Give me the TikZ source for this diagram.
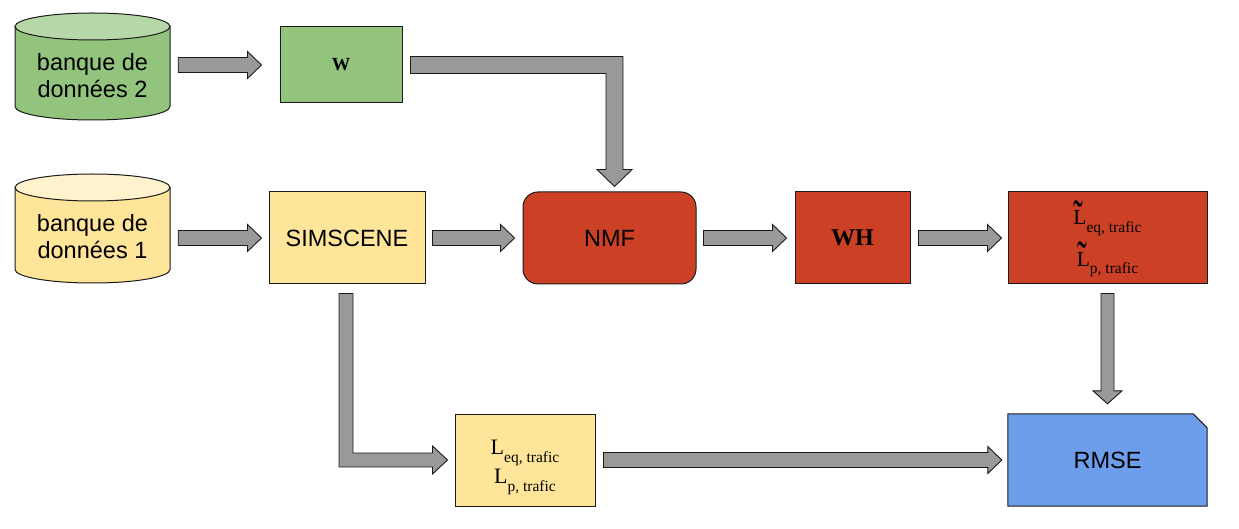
\documentclass[tikz,border=0pt]{standalone}
\usepackage{fontspec}
\usepackage{graphicx}
\setmainfont{Liberation Serif}
\setsansfont{Liberation Sans}
\usetikzlibrary{calc,backgrounds}
\definecolor{gbody}{HTML}{93C47D}
\definecolor{gtop}{HTML}{B6D7A8}
\definecolor{ybody}{HTML}{FFE599}
\definecolor{ytop}{HTML}{FFF2CC}
\definecolor{redc}{HTML}{CC4125}
\definecolor{bluec}{HTML}{6D9EEB}
\definecolor{arrc}{HTML}{999999}
\definecolor{linec}{HTML}{1A1A1A}

\newcommand\dbcyl[6]{%
 \pgfmathsetmacro\cyM{(#1+#3)/2}%
 \pgfmathsetmacro\cyR{(#3-#1)/2}%
 \pgfmathsetmacro\cyKa{\cyM-0.5523*\cyR}%
 \pgfmathsetmacro\cyKb{\cyM+0.5523*\cyR}%
 \pgfmathsetmacro\cyT{#2+13.5}%
 \pgfmathsetmacro\cyTb{#2+27}%
 \pgfmathsetmacro\cyB{#4-13.5}%
 \pgfmathsetmacro\cyK{0.5523*13.5}%
 \draw[cylline, fill=#5] (#1,\cyT) -- (#1,\cyB) .. controls (#1,\cyB+\cyK) and (\cyKa,#4) .. (\cyM,#4) .. controls (\cyKb,#4) and (#3,\cyB+\cyK) .. (#3,\cyB) -- (#3,\cyT) -- cycle;
 \draw[cylline, fill=#6] (#1,\cyT) .. controls (#1,\cyT-\cyK) and (\cyKa,#2) .. (\cyM,#2) .. controls (\cyKb,#2) and (#3,\cyT-\cyK) .. (#3,\cyT) .. controls (#3,\cyT+\cyK) and (\cyKb,\cyTb) .. (\cyM,\cyTb) .. controls (\cyKa,\cyTb) and (#1,\cyT+\cyK) .. (#1,\cyT) -- cycle;
}
\newcommand\zl[1]{\raisebox{0pt}[0pt][0pt]{#1}}
\newcommand\Ls[1]{L\raisebox{-8pt}{\fontsize{15.5}{15.5}\selectfont #1}}
\newcommand\tld{\rlap{\raisebox{16pt}[0pt][0pt]{\hspace{0.5pt}\scalebox{1.35}[2.4]{\raisebox{-11pt}{\char"02DC}}}}}
\newcommand\Lts[1]{\tld L\raisebox{-8pt}{\fontsize{15.5}{15.5}\selectfont #1}}

\newcommand\harr[2]{\draw[barrow] let \p1=(#1), \p2=(#2) in (\x1,\y1+7.5pt) -- (\x2-14pt,\y1+7.5pt) -- (\x2-14pt,\y1+13.5pt) -- (\x2,\y1) -- (\x2-14pt,\y1-13.5pt) -- (\x2-14pt,\y1-7.5pt) -- (\x1,\y1-7.5pt) -- cycle;}
\newcommand\varr[2]{\draw[barrow] let \p1=(#1), \p2=(#2) in (\x1-6.5pt,\y1) -- (\x1-6.5pt,\y2+13pt) -- (\x1-14.5pt,\y2+13pt) -- (\x1,\y2) -- (\x1+14.5pt,\y2+13pt) -- (\x1+6.5pt,\y2+13pt) -- (\x1+6.5pt,\y1) -- cycle;}

\tikzset{
 cylline/.style={draw=linec, line width=1pt},
 barrow/.style={draw=linec, fill=arrc, line width=0.9pt, line join=miter},
 boxst/.style={draw=linec, line width=1pt, inner sep=0pt, text=black},
 sanstxt/.style={font=\sffamily\fontsize{23.5}{27}\selectfont},
}

\begin{document}
\begin{tikzpicture}[x=1pt,y=-1pt]
\useasboundingbox (0,0) rectangle (1239,529);

% cylinders
\dbcyl{15}{13}{170}{120}{gbody}{gtop}
\dbcyl{15}{174}{170}{283}{ybody}{ytop}
\node[inner sep=0pt, sanstxt] (c2) at (92.5,66.5)
  {\parbox[c][107pt][t]{155pt}{\centering\vspace*{58pt}\zl{banque de}\\\zl{données 2}}};
\node[inner sep=0pt, sanstxt] (c1) at (92.5,228.5)
  {\parbox[c][109pt][t]{155pt}{\centering\vspace*{58pt}\zl{banque de}\\\zl{données 1}}};

% boxes
\node[boxst, fill=gbody, minimum width=122, minimum height=76, font=\bfseries\fontsize{18.5}{18.5}\selectfont] (W) at (341,65) {W};
\node[boxst, fill=ybody, minimum width=156, minimum height=92, sanstxt] (S) at (347,238) {SIMSCENE};
\node[boxst, fill=redc, minimum width=173, minimum height=92, rounded corners=15pt, sanstxt] (N) at (609.5,238) {NMF};
\node[boxst, fill=redc, minimum width=115, minimum height=92, font=\bfseries\fontsize{24}{24}\selectfont] (WH) at (852.5,238) {WH};
\node[boxst, fill=redc, font=\fontsize{21.5}{41}\selectfont] (Lt) at (1107.5,238)
  {\parbox[c][92pt][t]{199pt}{\centering\vspace*{33pt}\zl{\Lts{eq, trafic}}\\\zl{\Lts{p, trafic}}}};
\node[boxst, fill=ybody, font=\fontsize{22}{29}\selectfont] (Lb) at (525,460)
  {\parbox[c][92pt][t]{140pt}{\centering\vspace*{40pt}\zl{\Ls{eq, trafic}}\\\zl{\Ls{p, trafic}}}};
\node[inner sep=0pt, minimum width=199, minimum height=92, sanstxt] (R) at (1107.5,460) {RMSE};
\begin{pgfonlayer}{background}
\draw[fill=bluec, draw=linec, line width=1pt] (R.north west) -- ($(R.north east)+(-14,0)$) -- ($(R.north east)+(0,14)$) -- (R.south east) -- (R.south west) -- cycle;
\end{pgfonlayer}

% arrows
\harr{$(c2.east|-W.west)+(8,0)$}{$(W.west)+(-18,0)$}
\harr{$(c1.east|-S.west)+(8,0)$}{$(S.west)+(-7,0)$}
\harr{$(S.east)+(7,0)$}{$(N.west)+(-8,0)$}
\harr{$(N.east)+(7,0)$}{$(WH.west)+(-8,0)$}
\harr{$(WH.east)+(8,0)$}{$(Lt.west)+(-6,0)$}
\harr{$(Lb.east)+(8,0)$}{$(R.west)+(-6,0)$}
\varr{$(Lt.south)+(0,9)$}{$(R.north)+(0,-10)$}
% bent W -> NMF
\draw[barrow] let \p1=($(W.east)+(8,0)$), \p2=($(N.north)+(5,-5)$) in
  (\x1,\y1+8.5pt) -- (\x2+8.5pt,\y1+8.5pt) -- (\x2+8.5pt,\y2+17pt) -- (\x2+17.5pt,\y2+17pt) -- (\x2,\y2) -- (\x2-17.5pt,\y2+17pt) -- (\x2-8.5pt,\y2+17pt) -- (\x2-8.5pt,\y1-8.5pt) -- (\x1,\y1-8.5pt) -- cycle;
% bent SIMSCENE -> L
\draw[barrow] let \p1=($(S.south)+(-1,9)$), \p2=($(Lb.west)+(-7,0)$) in
  (\x1-7pt,\y1) -- (\x1-7pt,\y2-7pt) -- (\x2-15pt,\y2-7pt) -- (\x2-15pt,\y2-14pt) -- (\x2,\y2) -- (\x2-15pt,\y2+14pt) -- (\x2-15pt,\y2+7pt) -- (\x1+7pt,\y2+7pt) -- (\x1+7pt,\y1) -- cycle;
\end{tikzpicture}
\end{document}
